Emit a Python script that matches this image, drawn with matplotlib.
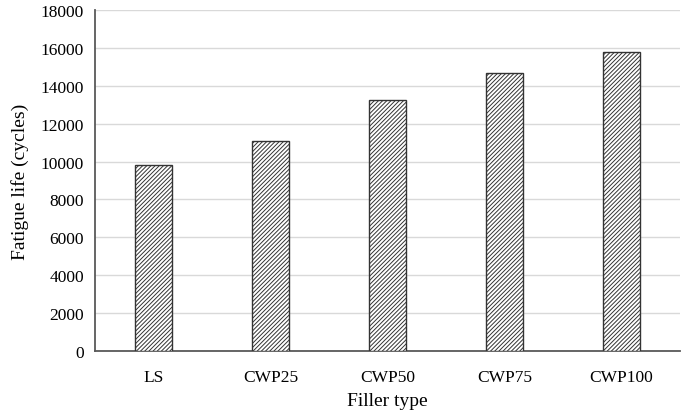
import matplotlib
matplotlib.use("Agg")
import matplotlib.pyplot as plt

categories = ["LS", "CWP25", "CWP50", "CWP75", "CWP100"]
fatigue_life = [9800, 11100, 13250, 14650, 15800]
yticks = [0, 2000, 4000, 6000, 8000, 10000, 12000, 14000, 16000, 18000]

plt.rcParams['font.family'] = ['Liberation Serif', 'DejaVu Serif']
plt.rcParams['hatch.linewidth'] = 0.7
plt.rcParams['hatch.color'] = '#333333'

fig = plt.figure(figsize=(6.85, 4.14), dpi=100)
ax = fig.add_axes([0.1387, 0.1498, 0.8540, 0.8236])

x = range(len(categories))
ax.bar(x, fatigue_life, width=0.32, color='white', edgecolor='#333333',
       linewidth=1.0, hatch='////////', zorder=3)

ax.set_xlim(-0.5, len(categories) - 0.5)
ax.set_ylim(0, 18000)
ax.set_yticks(yticks)
ax.set_xticks(list(x))
ax.set_xticklabels(categories)
ax.tick_params(axis='both', length=0, labelsize=12.5, colors='black')
ax.tick_params(axis='x', pad=13)
ax.tick_params(axis='y', pad=8)

ax.yaxis.grid(True, color='#d9d9d9', linewidth=1.0, zorder=0)
ax.set_axisbelow(True)
for s in ['top', 'right']:
    ax.spines[s].set_visible(False)
for s in ['left', 'bottom']:
    ax.spines[s].set_color('#595959')
    ax.spines[s].set_linewidth(1.3)

ax.set_xlabel("Filler type", fontsize=14, labelpad=5)
ax.set_ylabel("Fatigue life (cycles)", fontsize=14, labelpad=8)

fig.savefig("out.png", dpi=100)
